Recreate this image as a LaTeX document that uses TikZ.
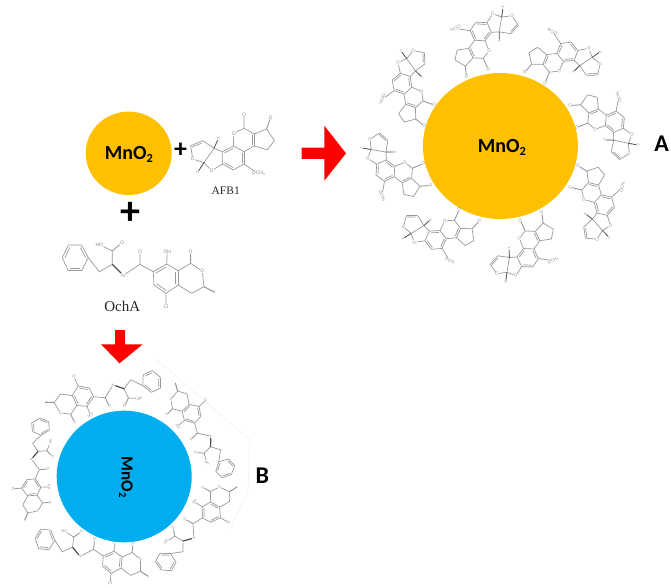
\documentclass[tikz,border=0pt]{standalone}
\usepackage{fontspec}
\setmainfont{Carlito}
\newfontfamily\labfont{Liberation Sans}
\newfontfamily\capfont{Liberation Serif}
\usetikzlibrary{calc}
\definecolor{mnorange}{HTML}{FFC000}
\definecolor{mnblue}{HTML}{00AEEF}
\definecolor{bondgray}{HTML}{999999}
\definecolor{oxygray}{HTML}{7C8894}
\definecolor{faintedge}{HTML}{F0F0F0}
\newcommand{\subn}[1]{\raisebox{-.3ex}{\scalebox{.62}{#1}}}
\tikzset{
  bond/.style={draw=bondgray,line width=.7pt,line join=round},
  cobond/.style={draw=bondgray,line width=.9pt},
  wedgebond/.style={draw=black!70,line width=.8pt},
  atom/.style={transform shape,inner sep=1pt,text=oxygray,font=\fontsize{15}{15}\selectfont\labfont},
  mnlabel/.style={font=\fontsize{20}{20}\selectfont\bfseries,text=black,inner sep=0pt},
  letterlabel/.style={font=\fontsize{24}{24}\selectfont\bfseries,text=black,inner sep=0pt},
  caption/.style={font=\capfont,text=black!85,inner sep=0pt},
  plusmark/.style={text=black,inner sep=0pt,font=\bfseries},
  redarrow/.style={fill=red,draw=none},
}
% inner line of a ring double bond: #1,#2 atoms, #3 ring centre
\newcommand{\ringdb}[3]{\draw[bond] (#1) -- (#2); \draw[bond] ($(#1)!.2!(#3)$) -- ($(#2)!.2!(#3)$);}
% aflatoxin: #1 prefix, #2 #3 position of lactone carbonyl O, #4 rotation, #5 scale
\newcommand{\afb}[5]{%
\begin{scope}[name prefix=#1-,shift={(#2,#3)},rotate=#4,scale=#5/3,shift={(-552,-103)}]
  \coordinate (a) at (552,145); \coordinate (b) at (583,162); \coordinate (c) at (583,198);
  \coordinate (d) at (552,215); \coordinate (e) at (520,198);
  \coordinate (k) at (620,147); \coordinate (f) at (643,182); \coordinate (g) at (622,210);
  \coordinate (h) at (552,252); \coordinate (i) at (520,270); \coordinate (j) at (487,252);
  \coordinate (l) at (487,215); \coordinate (m) at (462,205); \coordinate (n) at (432,248);
  \coordinate (p) at (392,197); \coordinate (q) at (428,182);
  \coordinate (rl) at (552,180); \coordinate (bz) at (520,234); \coordinate (fu) at (412,218);
  \node[atom] (O1) at (552,103) {O};
  \node[atom] (O2) at (632,112) {O};
  \node[atom] (O3) at (522,160) {O};
  \node[atom] (O4) at (455,272) {O};
  \node[atom] (O5) at (398,237) {O};
  \node[atom,font=\fontsize{11}{11}\selectfont\labfont] (H1) at (475,176) {H};
  \node[atom,font=\fontsize{11}{11}\selectfont\labfont] (H2) at (413,277) {H};
  \node[atom,anchor=west,inner sep=.5pt] (Me) at (575,281) {OCH\subn{3}};
  \draw[bond] (O3) -- (a) -- (b);
  \draw[bond] (c) -- (d);
  \draw[bond] (e) -- (O3);
  \ringdb{b}{c}{rl}
  \draw[cobond] (a) -- (O1);
  \draw[cobond] (k) -- (O2);
  \draw[bond] (b) -- (k) -- (f) -- (g) -- (c);
  \ringdb{d}{h}{bz}
  \ringdb{i}{j}{bz}
  \ringdb{e}{l}{bz}
  \draw[bond] (d) -- (e) (h) -- (i) (j) -- (l);
  \draw[bond] (h) -- (Me);
  \draw[bond] (l) -- (m) -- (n) -- (O4) -- (j);
  \draw[bond] (n) -- (O5) -- (p);
  \ringdb{p}{q}{fu}
  \draw[bond] (q) -- (m);
  \draw[wedgebond] (m) -- (H1);
  \draw[wedgebond] (n) -- (H2);
\end{scope}}
% ochratoxin A: #1 prefix, #2 #3 position of the phenyl centre, #4 rotation, #5 scale
\newcommand{\ocha}[5]{%
\begin{scope}[name prefix=#1-,shift={(#2,#3)},rotate=#4,scale=#5/3,shift={(-46,-533)}]
  \coordinate (pc) at (46,533);
  \coordinate (r1) at (25,495); \coordinate (r2) at (65,495); \coordinate (r3) at (85,533);
  \coordinate (r4) at (65,572); \coordinate (r5) at (25,572); \coordinate (r6) at (7,533);
  \coordinate (c1) at (118,575); \coordinate (c2) at (157,553); \coordinate (c3) at (157,513);
  \coordinate (c4) at (240,553);
  \coordinate (a1) at (280,575); \coordinate (a2) at (320,552); \coordinate (a3) at (355,572);
  \coordinate (a4) at (355,615); \coordinate (a5) at (318,640); \coordinate (a6) at (282,615);
  \coordinate (ac) at (318,595);
  \coordinate (l1) at (392,550); \coordinate (l2) at (432,620); \coordinate (l3) at (395,640);
  \coordinate (me) at (465,637);
  \node[atom] (Oa) at (186,488) {O};
  \node[atom] (OHa) at (118,493) {HO};
  \node[atom] (Na) at (190,586) {N};
  \node[atom] (Ob) at (240,515) {O};
  \node[atom] (OHb) at (322,514) {OH};
  \node[atom] (Cl) at (318,680) {Cl};
  \node[atom] (Oc) at (392,515) {O};
  \node[atom] (Od) at (427,573) {O};
  \draw[bond] (r1) -- (r2) (r3) -- (r4) (r5) -- (r6);
  \ringdb{r2}{r3}{pc}
  \ringdb{r4}{r5}{pc}
  \ringdb{r6}{r1}{pc}
  \draw[bond] (r3) -- (c1) -- (c2) -- (c3) -- (OHa);
  \draw[cobond] (c3) -- (Oa);
  \draw[wedgebond,line width=1.2pt] (c2) -- (Na);
  \draw[bond] (Na) -- (c4) -- (a1);
  \draw[cobond] (c4) -- (Ob);
  \draw[bond] (a2) -- (a3) (a4) -- (a5) (a6) -- (a1);
  \ringdb{a1}{a2}{ac}
  \ringdb{a3}{a4}{ac}
  \ringdb{a5}{a6}{ac}
  \draw[bond] (a2) -- (OHb);
  \draw[bond] (a5) -- (Cl);
  \draw[bond] (a3) -- (l1) -- (Od) -- (l2) -- (l3) -- (a4);
  \draw[cobond] (l1) -- (Oc);
  \draw[bond,line width=1.1pt] (l2) -- (me);
\end{scope}}
\begin{document}
\begin{tikzpicture}[x=1pt,y=-1pt]
\useasboundingbox (0,0) rectangle (671,588);
% left reactants
\fill[mnorange] (128.7,153.3) ellipse [x radius=43,y radius=41.7];
\node[mnlabel] (mnleft) at (129,154) {MnO\subn{2}};
\node[plusmark,font=\fontsize{26}{26}\selectfont\bfseries] (plusa) at (180.7,150) {+};
\node[plusmark,font=\fontsize{40}{40}\selectfont\bfseries] (plusb) at (130.7,213) {+};
\afb{src}{244}{114.3}{0}{1}
\node[caption,font=\fontsize{11.5}{11.5}\selectfont\capfont] (afbname) at (225.7,191) {AFB1};
\ocha{srcb}{75.3}{257.7}{0}{1}
\node[caption,font=\fontsize{15}{15}\selectfont\capfont] (ochname) at (122.3,306.7) {OchA};
% arrows
\fill[redarrow] (301.7,147.7) -- (324.3,147.7) -- (324.3,125.7) -- (346,153.3) -- (324.3,180.7) -- (324.3,159) -- (301.7,159) -- cycle;
\fill[redarrow] (115,330) -- (125,330) -- (125,344.3) -- (142.7,344.3) -- (119.5,363.3) -- (101,344.3) -- (115,344.3) -- cycle;
% product A
\fill[mnorange] (500.4,146) ellipse [x radius=77.5,y radius=73];
\node[mnlabel] (mnA) at (502,147) {MnO\subn{2}};
\afb{a1}{488.3}{69.3}{-154.8}{.86}
\afb{a2}{545}{83.3}{-201.6}{.86}
\afb{a3}{576.7}{127.7}{-247.2}{.86}
\afb{a4}{570}{187.3}{-283.5}{.86}
\afb{a5}{520}{220}{25.6}{.86}
\afb{a6}{459.3}{209.3}{-23.9}{.86}
\afb{a7}{423.3}{163.3}{-65.3}{.86}
\afb{a8}{434.3}{105}{-109.7}{.86}
\node[letterlabel] (labA) at (661.7,143.5) {A};
% product B
\draw[faintedge,line width=.6pt] (157,360) -- (250,440) -- (248,490) -- (230,530);
\ocha{b1}{151.7}{381.7}{-155.2}{.756}
\ocha{b2}{225}{468.3}{-225.8}{.687}
\ocha{b3}{165.7}{561.7}{60.3}{.72}
\ocha{b4}{45}{539.3}{-5.8}{.763}
\ocha{b5}{40.7}{426.7}{-85.8}{.66}
\fill[mnblue] (124.2,476.5) ellipse [x radius=67.5,y radius=65.8];
\node[mnlabel,font=\fontsize{17}{17}\selectfont\bfseries,rotate=-90] (mnB) at (126,477) {MnO\subn{2}};
\node[letterlabel] (labB) at (262.3,476) {B};
\end{tikzpicture}
\end{document}
